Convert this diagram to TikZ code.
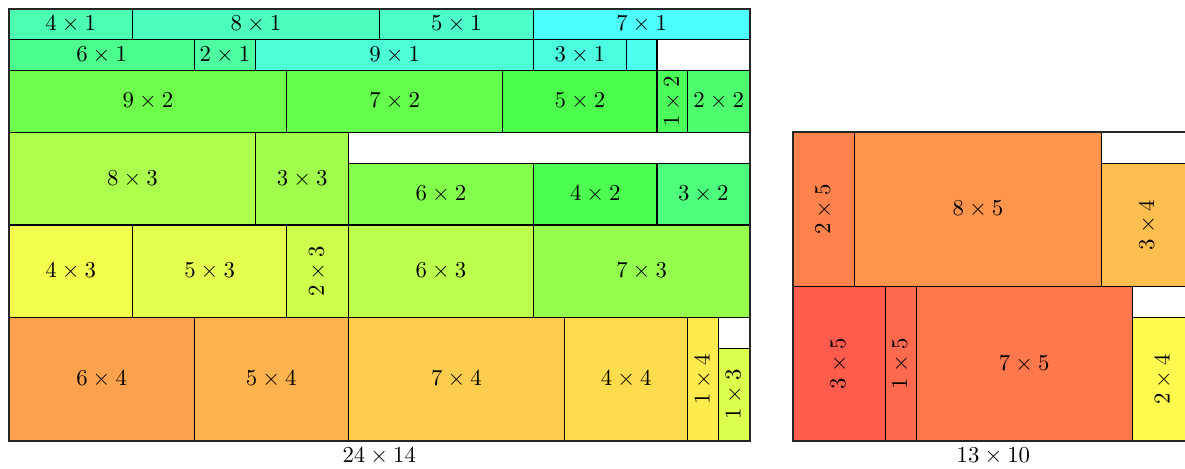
\documentclass[tikz,border=0pt]{standalone}
\usetikzlibrary{calc}

\tikzset{
  cellline/.style={draw=black, line width=0.5pt},
  frame/.style={draw=black!85, line width=0.8pt},
  dimlabel/.style={inner sep=1pt},
  vert/.style={rotate=90},
}

% \pcell[node options]{name}{r,g,b}{x}{y}{w}{h}
\newcommand\pcell[7][]{%
  \draw[cellline, fill={rgb,255:red,\pcR{#3};green,\pcG{#3};blue,\pcB{#3}}] (#4,#5) rectangle ++(#6,#7);
  \node[dimlabel,#1] (#2) at ({#4+#6/2},{#5+#7/2}) {$#6\times#7$};
}
\def\pcR#1{\pcsplitR#1\relax}
\def\pcG#1{\pcsplitG#1\relax}
\def\pcB#1{\pcsplitB#1\relax}
\def\pcsplitR#1,#2,#3\relax{#1}
\def\pcsplitG#1,#2,#3\relax{#2}
\def\pcsplitB#1,#2,#3\relax{#3}

\begin{document}
\begin{tikzpicture}[x=0.476cm, y=0.476cm]
\clip (-0.292,-0.90) rectangle (38.11,14.29);

% ---------- left container: 24 x 14 ----------
\begin{scope}
  \fill[white] (0,0) rectangle (24,14);
  % top row
  \pcell{a1}{77,255,178}{0}{13}{4}{1}
  \pcell{a2}{77,255,190}{4}{13}{8}{1}
  \pcell{a3}{77,255,200}{12}{13}{5}{1}
  \pcell{a4}{77,255,255}{17}{13}{7}{1}
  % second row
  \pcell{b1}{77,255,140}{0}{12}{6}{1}
  \pcell{b2}{77,255,160}{6}{12}{2}{1}
  \pcell{b3}{77,255,212}{8}{12}{9}{1}
  \pcell{b4}{77,255,225}{17}{12}{3}{1}
  \draw[cellline, fill={rgb,255:red,77;green,255;blue,238}] (20,12) rectangle ++(1,1);
  \node[inner sep=0pt] (b5) at (20.5,12.5) {};
  \draw[cellline] (21,12) rectangle (24,13);
  % third row
  \pcell{c1}{110,255,77}{0}{10}{9}{2}
  \pcell{c2}{100,255,77}{9}{10}{7}{2}
  \pcell{c3}{77,255,77}{16}{10}{5}{2}
  \pcell[vert]{c4}{77,255,90}{21}{10}{1}{2}
  \pcell{c5}{77,255,110}{22}{10}{2}{2}
  % fourth band
  \pcell{d1}{173,255,77}{0}{7}{8}{3}
  \pcell{d2}{160,255,77}{8}{7}{3}{3}
  \draw[cellline] (11,9) rectangle (24,10);
  \pcell{d3}{130,255,77}{11}{7}{6}{2}
  \pcell{d4}{77,255,80}{17}{7}{4}{2}
  \pcell{d5}{77,255,125}{21}{7}{3}{2}
  % fifth band
  \pcell{e1}{243,255,77}{0}{4}{4}{3}
  \pcell{e2}{228,255,77}{4}{4}{5}{3}
  \pcell[vert]{e3}{205,255,77}{9}{4}{2}{3}
  \pcell{e4}{188,255,77}{11}{4}{6}{3}
  \pcell{e5}{148,255,77}{17}{4}{7}{3}
  % bottom band
  \pcell{f1}{255,162,77}{0}{0}{6}{4}
  \pcell{f2}{255,178,77}{6}{0}{5}{4}
  \pcell{f3}{255,205,77}{11}{0}{7}{4}
  \pcell{f4}{255,220,77}{18}{0}{4}{4}
  \pcell[vert]{f5}{255,235,77}{22}{0}{1}{4}
  \pcell[vert]{f6}{218,255,77}{23}{0}{1}{3}
  \draw[cellline] (23,3) rectangle (24,4);
  \draw[frame] (0,0) rectangle (24,14);
  \node (leftsize) at (12,-0.49) {$24\times14$};
\end{scope}

% ---------- right container: 13 x 10 ----------
\begin{scope}[shift={(25.4,0)}]
  \fill[white] (0,0) rectangle (13,10);
  \pcell[vert]{g1}{255,130,77}{0}{5}{2}{5}
  \pcell{g2}{255,148,77}{2}{5}{8}{5}
  \pcell[vert]{g3}{255,190,77}{10}{5}{3}{4}
  \draw[cellline] (10,9) rectangle (13,10);
  \pcell[vert]{h1}{255,92,77}{0}{0}{3}{5}
  \pcell[vert]{h2}{255,105,77}{3}{0}{1}{5}
  \pcell{h3}{255,120,77}{4}{0}{7}{5}
  \pcell[vert]{h4}{255,250,77}{11}{0}{2}{4}
  \draw[cellline] (11,4) rectangle (13,5);
  \draw[frame] (0,0) rectangle (13,10);
  \node (rightsize) at (6.5,-0.49) {$13\times10$};
\end{scope}
\end{tikzpicture}
\end{document}
